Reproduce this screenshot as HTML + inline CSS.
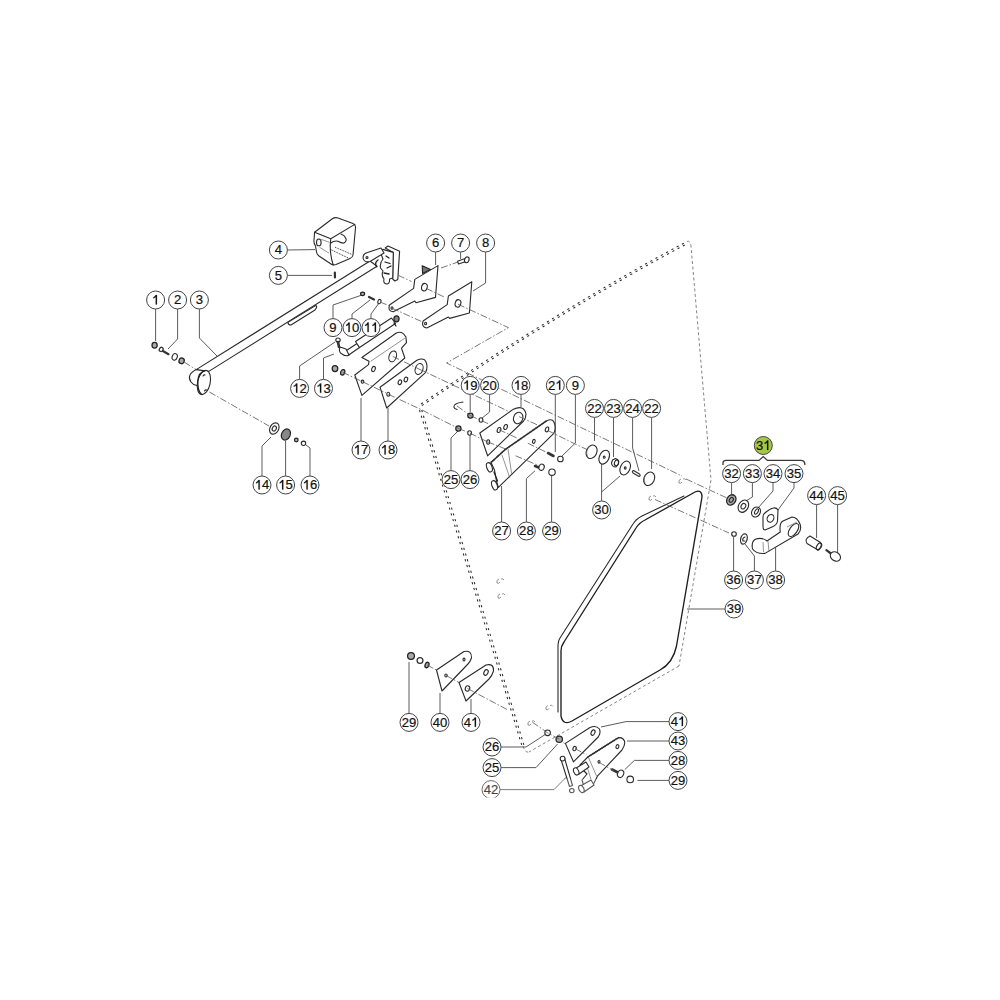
<!DOCTYPE html>
<html><head><meta charset="utf-8"><style>
html,body{margin:0;padding:0;background:#fff;}
body{width:1000px;height:1000px;overflow:hidden;position:relative;}
svg{position:absolute;left:0;top:0;}
text{font-family:"Liberation Sans",sans-serif;font-size:13.1px;fill:#111;stroke:#111;stroke-width:0.2px;text-anchor:start;}
.one{fill:#111;stroke:#111;stroke-width:0.2;}
.ld{fill:none;stroke:#4a4a4a;stroke-width:0.9;}
.pt{fill:#fff;stroke:#2a2a2a;stroke-width:1.1;stroke-linejoin:round;}
.pn{fill:none;stroke:#2a2a2a;stroke-width:1.1;stroke-linejoin:round;stroke-linecap:round;}
.dc{fill:none;stroke:#555;stroke-width:0.8;stroke-dasharray:7 2 1.5 2;}
.dd{fill:none;stroke:#777;stroke-width:0.9;stroke-dasharray:3 2.5;}
.ci{fill:#fff;stroke:#444;stroke-width:1;}
.nt{fill:#aaa;stroke:#222;stroke-width:1.25;}
.nt2{fill:#fff;stroke:#333;stroke-width:1.3;}
.ng{fill:#888;stroke:#222;stroke-width:1.2;}
.gl{fill:#fff;stroke:#1e1e1e;stroke-width:1.35;stroke-linejoin:round;}
.pd{fill:none;stroke:#333;stroke-width:1;stroke-dasharray:1 0.8;}
.tri{fill:#777;stroke:#222;stroke-width:1.1;stroke-linejoin:round;}
.bk{fill:none;stroke:#222;stroke-width:1.3;stroke-linecap:round;}
.tx{fill:none;stroke:#2a2a2a;stroke-width:1.7;stroke-dasharray:1.2 0.6;}
.pg{fill:none;stroke:#888;stroke-width:0.9;}
.ph{fill:none;stroke:#666;stroke-width:0.7;}
.bl{fill:none;stroke:#333;stroke-width:2.6;stroke-linecap:round;}
.bl2{fill:none;stroke:#333;stroke-width:2.2;stroke-linecap:round;}
.dd2{fill:none;stroke:#2a2a2a;stroke-width:1.05;stroke-dasharray:2.2 3.8;}
</style></head><body>
<svg width="1000" height="1000" viewBox="0 0 1000 1000">

<path class="dd2" d="M421,404 Q564.5,306.4 687,241.5"/>
<path class="dd2" d="M421.9,405.6 Q565.4,308 687.5,243.5"/>
<path class="dd2" d="M419.5,410 L522,746"/>
<path class="dd2" d="M421.7,410 L524.2,746"/>
<path class="dd" d="M523,746 Q525,753 529,752"/>
<path class="dd" d="M687,241.5 Q690,240 691,246 L711,480 L679,666"/>
<path class="dd" d="M679,666 L529,752"/>
<path class="gl" d="M561,716 L561,651 Q561,646 564,642 L636,528 Q639,523 645,520 L695,492 Q702,489 702,497 L676.5,646 Q673,663 660,670 L572,721 Q563,726 561,716 Z"/>
<path class="pn" d="M558,712 L558,645 Q558,641 560,638 L633,524 Q636,519 642,516 L684,496"/>
<path class="ph" d="M499.0,579.0 q-3,1 -2,4 q2,1 3,-1 M501.0,579.0 q2,-1 3,1"/>
<path class="ph" d="M500.0,594.0 q-3,1 -2,4 q2,1 3,-1 M502.0,594.0 q2,-1 3,1"/>
<path class="ph" d="M530.0,721.0 q-3,1 -2,4 q2,1 3,-1 M532.0,721.0 q2,-1 3,1"/>
<path class="ph" d="M548.0,705.5 q-3,1 -2,4 q2,1 3,-1 M550.0,705.5 q2,-1 3,1"/>
<path class="ph" d="M651.0,496.0 q-3,1 -2,4 q2,1 3,-1 M653.0,496.0 q2,-1 3,1"/>
<path class="ph" d="M681.0,479.0 q-3,1 -2,4 q2,1 3,-1 M683.0,479.0 q2,-1 3,1"/>
<polyline class="ld" points="155.6,309.0 155.6,341.0"/>
<polyline class="ld" points="177.6,309.0 177.6,339.0 168.0,349.0"/>
<polyline class="ld" points="199.4,309.0 199.4,338.0 217.0,356.0"/>
<polyline class="ld" points="287.5,250.0 315.0,249.6"/>
<polyline class="ld" points="287.5,275.4 332.0,275.4"/>
<polyline class="ld" points="435.6,252.0 435.6,265.0"/>
<polyline class="ld" points="460.6,252.0 460.6,259.0"/>
<polyline class="ld" points="485.6,252.0 485.6,283.0 473.0,291.0"/>
<polyline class="ld" points="333.0,318.6 333.0,305.0 362.0,295.0"/>
<polyline class="ld" points="352.0,318.6 352.0,314.0 370.0,300.0"/>
<polyline class="ld" points="371.0,318.6 371.0,314.0 379.0,303.0"/>
<polyline class="ld" points="299.6,379.4 299.6,366.0 335.0,342.0"/>
<polyline class="ld" points="323.5,379.4 323.5,358.0 334.0,354.0"/>
<polyline class="ld" points="262.0,476.0 262.0,446.0 271.0,437.0"/>
<polyline class="ld" points="285.6,476.0 285.6,441.0"/>
<polyline class="ld" points="310.0,476.0 310.0,448.0 306.0,445.0"/>
<polyline class="ld" points="361.0,441.0 361.0,398.0"/>
<polyline class="ld" points="388.0,441.0 388.0,408.0"/>
<polyline class="ld" points="470.2,394.4 470.2,412.0"/>
<polyline class="ld" points="489.6,394.4 489.6,412.0 481.0,419.0"/>
<polyline class="ld" points="521.0,394.4 521.0,407.0"/>
<polyline class="ld" points="555.3,394.4 555.3,452.0"/>
<polyline class="ld" points="575.4,394.4 575.4,443.0 561.0,457.0"/>
<polyline class="ld" points="594.5,417.4 594.5,441.0"/>
<polyline class="ld" points="613.5,417.4 613.5,457.0"/>
<polyline class="ld" points="632.6,417.4 632.6,448.0 639.0,471.0"/>
<polyline class="ld" points="651.6,417.4 651.6,469.0"/>
<polyline class="ld" points="601.6,501.0 601.6,463.0"/>
<polyline class="ld" points="601.6,492.0 620.0,476.0"/>
<polyline class="ld" points="451.0,470.6 451.0,438.0 458.0,431.0"/>
<polyline class="ld" points="470.0,470.6 470.0,435.0"/>
<polyline class="ld" points="501.6,522.0 501.6,486.0"/>
<polyline class="ld" points="526.4,522.0 526.4,478.6 535.0,470.8"/>
<polyline class="ld" points="551.6,522.0 551.6,476.0"/>
<polyline class="ld" points="731.6,482.6 731.6,494.0"/>
<polyline class="ld" points="752.4,482.6 752.4,497.0 746.0,501.0"/>
<polyline class="ld" points="773.0,482.6 773.0,491.0 758.0,508.0"/>
<polyline class="ld" points="794.0,482.6 794.0,488.0 778.0,510.0"/>
<polyline class="ld" points="733.6,571.0 733.6,537.0"/>
<polyline class="ld" points="754.4,571.0 754.4,556.0 745.0,544.0"/>
<polyline class="ld" points="775.6,571.0 775.6,547.5"/>
<polyline class="ld" points="725.0,609.0 687.0,609.0"/>
<polyline class="ld" points="816.6,504.6 816.6,538.0"/>
<polyline class="ld" points="837.6,504.6 837.6,556.0"/>
<polyline class="ld" points="409.0,713.4 409.0,662.0"/>
<polyline class="ld" points="440.0,713.4 440.0,693.0"/>
<polyline class="ld" points="471.0,713.4 471.0,699.0"/>
<polyline class="ld" points="501.0,747.0 526.0,747.0 546.0,734.0"/>
<polyline class="ld" points="501.0,767.6 536.0,767.6 557.6,744.0"/>
<polyline class="ld" points="500.0,789.6 554.0,789.6 566.0,777.4"/>
<polyline class="ld" points="669.0,721.6 626.0,721.6 601.0,727.0"/>
<polyline class="ld" points="669.0,741.0 627.0,741.0"/>
<polyline class="ld" points="669.0,760.4 634.4,760.4 624.8,769.6"/>
<polyline class="ld" points="669.0,780.4 637.4,780.4"/>
<path class="pt" d="M196.2,369.6 L370,261 L377,266.2 L208.8,371.4 Z"/>
<path class="pn" d="M196.2,369.6 Q186,375 191,382 Q193,385 197,385.5"/>
<ellipse class="pt" cx="203.9" cy="382.5" rx="6.3" ry="12.3" transform="rotate(12 203.9 382.5)" />
<path class="bk" d="M205,370.8 Q198.5,372 197.8,381 Q197.5,391 201.5,394.3"/>
<path class="pn" d="M203,376 q1,-1.5 2,-1 M204.5,391 q1,-1.5 2,-1"/>
<path class="pt" d="M288,322.4 L315.6,305.6 Q318,306 315,310 L291,325 Q288,325 288,322.4 Z"/>
<ellipse class="nt" cx="154.6" cy="345.2" rx="2.6" ry="2.8" transform="rotate(0 154.6 345.2)" />
<path class="bl2" d="M162,350.5 L168.5,354.2"/>
<ellipse class="nt2" cx="161.2" cy="349.4" rx="1.8" ry="2.2" transform="rotate(30 161.2 349.4)" />
<ellipse class="pt" cx="174.7" cy="356.9" rx="2.5" ry="3.4" transform="rotate(20 174.7 356.9)" />
<ellipse class="nt" cx="181.6" cy="360.8" rx="2.6" ry="2.9" transform="rotate(20 181.6 360.8)" />
<ellipse class="pt" cx="274.3" cy="428.5" rx="4.3" ry="6.0" transform="rotate(30 274.3 428.5)" /><ellipse class="pn" cx="274.3" cy="428.5" rx="1.9" ry="2.7" transform="rotate(30 274.3 428.5)" />
<ellipse class="ng" cx="285.9" cy="434.5" rx="4.3" ry="5.8" transform="rotate(25 285.9 434.5)" />
<ellipse class="nt" cx="296.3" cy="440.0" rx="1.8" ry="1.8" transform="rotate(0 296.3 440.0)" />
<ellipse class="pt" cx="303.5" cy="443.3" rx="2.2" ry="2.2" transform="rotate(0 303.5 443.3)" />
<path class="pt" d="M314.6,232.2 L332,219 Q335,217 338,218 L353,223.5 Q356,225 355.5,228 L353,255 Q352.5,257.5 350,258.5 L336,264.5 Q333,265.5 331,264 L319,256 Q317,254.5 316.5,252 L315.5,246 Q313.5,243 314,240 Z"/>
<path class="pn" d="M314.6,232.2 L330.8,238.8 L354.8,224.4 M330.8,238.8 Q329,252 333.2,264.9"/>
<path class="pn" d="M330.8,243 Q334,240.5 338,241.2 Q342,243.5 344,243 Q347,241 345.8,238.2 Q344.5,235 341,234"/>
<ellipse class="pn" cx="318.8" cy="242.4" rx="2.3" ry="3.4" transform="rotate(0 318.8 242.4)" />
<path class="ph" d="M321.2,239.4 L329.6,242.4 M319.4,247.2 L329,253.2"/>
<path class="pd" d="M335,247.2 L351.8,254.4 M330.8,249.6 L348.2,258"/>
<path class="bl2" d="M334.9,272.5 L334.9,277.5"/>
<path class="pt" d="M385.2,248 L388,246 L399.6,251.2 L397.8,279.4 L394.8,281 L392.7,279 L393.3,252.4 Z"/>
<path class="pt" d="M382.8,249.4 L393.3,252.4 L392.7,278 L389.5,279 Q390,284 386.5,284 Q383,283.5 384,279 Q381,275 383,271 L380.5,268 Q379.5,263 383,259 L381,254 Z"/>
<path class="pt" d="M363,258 Q363,253.5 367.5,252.5 L381,248 L384,253 L370,261.5 Q364,263 363,258 Z"/>
<ellipse class="pn" cx="367.0" cy="257.5" rx="1.0" ry="1.0" transform="rotate(0 367.0 257.5)" />
<path class="bk" d="M376.8,266.8 Q374,263 378,260 M386,256 L389,258 M385,262 L390,263.5 M387,268 L391,266 M384,273 L389,274"/>
<path class="tri" d="M422.2,265.8 L430.6,269.4 L422.6,273.4 Z"/>
<path class="pt" d="M438,265.6 L435.5,297.4 L416,302.8 L414.8,301 L393.2,311.8 Q387.5,311 389.5,305 L413.6,288.4 L414.8,279.4 Z"/>
<ellipse class="pn" cx="424.4" cy="287.2" rx="2.8" ry="3.8" transform="rotate(15 424.4 287.2)" />
<ellipse class="pn" cx="392.0" cy="308.0" rx="1.0" ry="1.3" transform="rotate(0 392.0 308.0)" />
<path class="pt" d="M471.8,281.8 L469.4,313 L449.6,318.4 L448.4,317 L426.8,328 Q421.1,327 423.1,321 L447.2,304.6 L448.4,296 Z"/>
<ellipse class="pn" cx="458.0" cy="303.4" rx="2.8" ry="3.8" transform="rotate(15 458.0 303.4)" />
<ellipse class="pn" cx="425.6" cy="323.5" rx="1.0" ry="1.3" transform="rotate(0 425.6 323.5)" />
<path class="pt" d="M457.5,261.3 L465,258.6 L466,261.4 L458.5,264 Z"/>
<ellipse class="pt" cx="466.8" cy="259.8" rx="2.2" ry="3.0" transform="rotate(20 466.8 259.8)" />
<ellipse class="nt" cx="362.6" cy="293.8" rx="2.0" ry="1.8" transform="rotate(0 362.6 293.8)" />
<path class="bl2" d="M369,297 L374,299.5"/>
<ellipse class="pt" cx="379.4" cy="301.6" rx="1.5" ry="2.2" transform="rotate(20 379.4 301.6)" />
<path class="pt" d="M345,351.5 L357,343.5 L359.5,347.5 L348,355.5 Z"/>
<path class="pt" d="M355.5,341.5 L391.5,318 L395.5,323.5 L359.5,347.5 Z"/>
<ellipse class="ng" cx="396.5" cy="318.8" rx="2.6" ry="3.0" transform="rotate(0 396.5 318.8)" />
<path class="bk" d="M394,323 L396,326"/>
<path class="pt" d="M342,354 Q338,352 340,347 L346,349 L349,355 Q346,357 342,354 Z"/>
<ellipse class="pt" cx="338.0" cy="340.0" rx="2.2" ry="2.0" transform="rotate(0 338.0 340.0)" />
<path class="bl" d="M338,342 L339,347"/>
<ellipse class="nt" cx="335.0" cy="368.5" rx="2.8" ry="3.0" transform="rotate(0 335.0 368.5)" />
<ellipse class="nt" cx="342.7" cy="372.3" rx="2.0" ry="2.8" transform="rotate(20 342.7 372.3)" />
<path class="pt" d="M396,333.3 Q402,330 405.9,337.1 L406.5,342.6 L401.5,348.1 L404.8,358 L361.9,395.4 L354.8,375 L368.5,364.6 L369,361.3 L361.9,357.5 Z"/>
<path class="ph" d="M370.7,361.3 L404.8,338.2"/>
<ellipse class="pn" cx="392.7" cy="356.4" rx="3.6" ry="5.6" transform="rotate(20 392.7 356.4)" />
<ellipse class="pn" cx="373.5" cy="369.0" rx="1.7" ry="2.7" transform="rotate(20 373.5 369.0)" />
<ellipse class="pn" cx="362.5" cy="381.7" rx="1.3" ry="1.6" transform="rotate(0 362.5 381.7)" />
<path class="pt" d="M416.9,360.2 Q426,356 427,366 Q427,370 425.7,372.3 L386.7,408 L380,387.2 Z"/>
<ellipse class="pn" cx="419.1" cy="369.0" rx="3.8" ry="5.6" transform="rotate(20 419.1 369.0)" />
<ellipse class="pn" cx="399.9" cy="382.2" rx="1.7" ry="2.4" transform="rotate(20 399.9 382.2)" />
<ellipse class="pn" cx="405.9" cy="379.5" rx="1.7" ry="2.4" transform="rotate(20 405.9 379.5)" />
<ellipse class="pn" cx="388.3" cy="394.3" rx="1.5" ry="2.0" transform="rotate(0 388.3 394.3)" />
<path class="pn" d="M457,409.5 Q452,408 455,404.5 Q458,402.5 463,402"/>
<ellipse class="nt" cx="470.4" cy="415.6" rx="2.6" ry="2.6" transform="rotate(0 470.4 415.6)" />
<ellipse class="pt" cx="481.0" cy="420.0" rx="1.9" ry="2.2" transform="rotate(0 481.0 420.0)" />
<ellipse class="nt" cx="458.4" cy="428.4" rx="2.6" ry="2.6" transform="rotate(0 458.4 428.4)" />
<ellipse class="pt" cx="469.6" cy="433.0" rx="1.9" ry="2.2" transform="rotate(0 469.6 433.0)" />
<path class="pt" d="M512.8,409.6 Q524,404 526,414 Q526,418 523.6,421 L487.6,455.8 L479.8,433 Z"/>
<ellipse class="pn" cx="518.2" cy="418.0" rx="4.6" ry="5.8" transform="rotate(20 518.2 418.0)" />
<ellipse class="pn" cx="499.0" cy="430.0" rx="1.7" ry="2.6" transform="rotate(20 499.0 430.0)" />
<ellipse class="pn" cx="505.6" cy="427.0" rx="1.7" ry="2.6" transform="rotate(20 505.6 427.0)" />
<ellipse class="pn" cx="488.2" cy="442.0" rx="1.5" ry="2.2" transform="rotate(0 488.2 442.0)" />
<path class="pt" d="M546.4,421 Q554,417 555,426 Q555.5,431 553.6,433.6 L498.4,487.4 L496.5,481 L494.5,470 L491,462.5 L505.6,449.2 Z"/>
<path class="tx" d="M491,462.5 L505.6,449.2 L546.4,421"/>
<path class="ph" d="M502,455 L509.8,477.8 M508,449 L511.6,473.6"/>
<path class="bk" d="M494,472 L497.5,481"/>
<ellipse class="pt" cx="489.4" cy="467.3" rx="2.6" ry="4.8" transform="rotate(-20 489.4 467.3)" />
<ellipse class="pt" cx="494.5" cy="485.3" rx="2.6" ry="4.8" transform="rotate(-20 494.5 485.3)" />
<ellipse class="pn" cx="547.0" cy="429.4" rx="1.6" ry="2.5" transform="rotate(20 547.0 429.4)" />
<ellipse class="pn" cx="533.8" cy="441.4" rx="1.3" ry="2.0" transform="rotate(20 533.8 441.4)" />
<path class="bl" d="M548,453 L553.5,456"/>
<ellipse class="pt" cx="560.4" cy="459.0" rx="2.8" ry="2.8" transform="rotate(0 560.4 459.0)" />
<path class="bl" d="M535,466 L540,468"/>
<ellipse class="pt" cx="541.6" cy="467.2" rx="2.6" ry="3.2" transform="rotate(20 541.6 467.2)" />
<ellipse class="pt" cx="552.0" cy="472.2" rx="3.2" ry="3.2" transform="rotate(0 552.0 472.2)" />
<ellipse class="pt" cx="591.6" cy="451.8" rx="5.2" ry="7.0" transform="rotate(25 591.6 451.8)" />
<path class="ph" d="M587.5,456 Q585,450 590,446"/>
<ellipse class="pt" cx="604.2" cy="457.2" rx="4.8" ry="7.3" transform="rotate(25 604.2 457.2)" />
<ellipse class="pn" cx="604.2" cy="457.2" rx="0.9" ry="1.1" transform="rotate(0 604.2 457.2)" />
<path class="pt" d="M612.5,460 L615.5,458.5 Q619,459.5 618.5,464 L616,467 Q612,467 611.5,463 Z"/>
<ellipse class="pn" cx="616.5" cy="462.8" rx="2.0" ry="3.0" transform="rotate(20 616.5 462.8)" />
<ellipse class="pt" cx="625.2" cy="468.0" rx="4.8" ry="7.3" transform="rotate(25 625.2 468.0)" />
<ellipse class="pn" cx="625.2" cy="468.0" rx="0.9" ry="1.1" transform="rotate(0 625.2 468.0)" />
<path class="pn" d="M633.5,470.5 L639.5,474 Q641,476 639,476.5 L633,473 Q631.5,471 633.5,470.5 Z"/>
<ellipse class="pt" cx="649.2" cy="478.8" rx="5.2" ry="7.0" transform="rotate(25 649.2 478.8)" />
<path class="ph" d="M645,483 Q642.5,477 647.5,473"/>
<ellipse class="nt" cx="731.3" cy="499.9" rx="4.3" ry="5.5" transform="rotate(35 731.3 499.9)" />
<ellipse class="pn" cx="731.3" cy="499.9" rx="1.8" ry="2.6" transform="rotate(35 731.3 499.9)" />
<ellipse class="pt" cx="743.4" cy="506.2" rx="4.8" ry="6.5" transform="rotate(30 743.4 506.2)" /><ellipse class="pn" cx="743.4" cy="506.2" rx="2.2" ry="2.9" transform="rotate(30 743.4 506.2)" />
<ellipse class="pt" cx="756.0" cy="512.0" rx="4.2" ry="5.3" transform="rotate(30 756.0 512.0)" />
<ellipse class="pn" cx="756.5" cy="511.5" rx="1.5" ry="3.0" transform="rotate(30 756.5 511.5)" />
<path class="pt" d="M766,512 Q775,505 778,510 L777.5,521 Q777,525 772,527 L765,530 Q763,530 763,526 L763,517 Q763,514 766,512 Z"/>
<ellipse class="pn" cx="770.5" cy="518.3" rx="3.2" ry="4.0" transform="rotate(30 770.5 518.3)" />
<ellipse class="pt" cx="734.0" cy="534.0" rx="2.3" ry="2.3" transform="rotate(0 734.0 534.0)" />
<ellipse class="nt2" cx="743.9" cy="539.0" rx="3.2" ry="5.2" transform="rotate(15 743.9 539.0)" />
<path class="pn" d="M745,537 Q742,538 743,541 L745,541"/>
<path class="pt" d="M756,539 Q751,541 752.5,549 Q756,554 765,553.4 L798,534 Q802,530 800,524 Q797,517 792,517 L783,521 Q779,523 780.3,532 L767,541 Q762,537 756,539 Z"/>
<path class="ph" d="M763,542 L763.5,552 M768,541 L769,552"/>
<ellipse class="pn" cx="793.5" cy="530.0" rx="3.8" ry="7.5" transform="rotate(35 793.5 530.0)" />
<path class="ph" d="M787,527 L797,522"/>
<path class="pt" d="M810,536 L820.5,542.5 Q823,546 818,550 L807,543.5 Q804,539 810,536 Z"/>
<ellipse class="pn" cx="819.0" cy="546.5" rx="2.2" ry="3.8" transform="rotate(30 819.0 546.5)" />
<path class="bl2" d="M826.4,550.2 L831,553.5"/>
<ellipse class="pt" cx="835.4" cy="556.5" rx="4.3" ry="5.5" transform="rotate(-55 835.4 556.5)" />
<ellipse class="nt" cx="411.0" cy="656.0" rx="3.4" ry="3.4" transform="rotate(0 411.0 656.0)" />
<ellipse class="nt2" cx="420.0" cy="660.5" rx="2.9" ry="2.9" transform="rotate(0 420.0 660.5)" />
<ellipse class="nt" cx="427.0" cy="665.0" rx="1.9" ry="2.8" transform="rotate(20 427.0 665.0)" />
<path class="pt" d="M436.5,670 L464,651.5 Q472,650 471.5,658 Q470,662 468,664 L442,691 Z"/>
<ellipse class="pn" cx="464.0" cy="659.5" rx="1.0" ry="1.4" transform="rotate(0 464.0 659.5)" />
<ellipse class="pn" cx="446.0" cy="675.5" rx="1.2" ry="1.5" transform="rotate(0 446.0 675.5)" />
<path class="pt" d="M459,682.5 L486,665 Q494,663 493.5,671 Q492,676 489,679 L466,701 Z"/>
<ellipse class="pn" cx="486.0" cy="672.5" rx="2.0" ry="3.0" transform="rotate(25 486.0 672.5)" />
<ellipse class="pn" cx="467.5" cy="688.5" rx="2.2" ry="2.7" transform="rotate(20 467.5 688.5)" />
<ellipse class="pt" cx="547.6" cy="732.8" rx="2.8" ry="2.8" transform="rotate(0 547.6 732.8)" />
<ellipse class="nt" cx="559.2" cy="739.2" rx="3.2" ry="3.2" transform="rotate(0 559.2 739.2)" />
<path class="pt" d="M565.4,743.4 L590,727.5 Q596,725 599.5,729 Q601,733 598.2,737 L573.4,761.8 Z"/>
<ellipse class="pn" cx="593.0" cy="732.6" rx="1.8" ry="2.8" transform="rotate(25 593.0 732.6)" />
<ellipse class="pn" cx="574.6" cy="748.6" rx="1.6" ry="2.2" transform="rotate(20 574.6 748.6)" />
<path class="pt" d="M587.8,757 L617,738.5 Q622,736 624.5,741 Q625.5,745 622,750 L597.4,776.2 L592.6,785.8 L585,790 L582,780 L587,774 L583,770 L580,765 Z"/>
<path class="tx" d="M587.8,757 L619,737.4"/>
<path class="ph" d="M588.6,757.8 L596.6,776.2 M587,766.6 L591,779.4"/>
<path class="pt" d="M576.2,768 L586,762 L589,767 L579,774 Z"/>
<ellipse class="pt" cx="576.2" cy="771.4" rx="2.4" ry="3.8" transform="rotate(-25 576.2 771.4)" />
<path class="pt" d="M581.4,785.5 L591,780 L594,785 L584,792 Z"/>
<ellipse class="pt" cx="581.4" cy="789.0" rx="2.4" ry="3.8" transform="rotate(-25 581.4 789.0)" />
<ellipse class="pn" cx="617.4" cy="746.6" rx="1.4" ry="2.0" transform="rotate(20 617.4 746.6)" />
<ellipse class="pn" cx="599.0" cy="761.8" rx="1.0" ry="1.3" transform="rotate(0 599.0 761.8)" />
<path class="pt" d="M561,759.5 L564.5,758 L572.5,785.5 L569.5,786.5 Z"/>
<ellipse class="pt" cx="562.6" cy="758.6" rx="2.4" ry="2.4" transform="rotate(0 562.6 758.6)" />
<ellipse class="pt" cx="571.8" cy="790.6" rx="2.3" ry="2.1" transform="rotate(0 571.8 790.6)" />
<path class="bl" d="M612,769.5 L618,772.5"/>
<ellipse class="pt" cx="620.6" cy="773.8" rx="3.0" ry="3.8" transform="rotate(25 620.6 773.8)" />
<ellipse class="pt" cx="630.2" cy="779.4" rx="3.3" ry="3.3" transform="rotate(0 630.2 779.4)" />
<polyline class="dc" points="184.0,362.0 196.0,369.5"/>
<polyline class="dc" points="209.4,392.0 269.0,426.0"/>
<polyline class="dc" points="398.0,275.2 411.5,281.5"/>
<polyline class="dc" points="441.0,268.0 458.0,262.0"/>
<polyline class="dc" points="426.2,288.4 445.0,297.4"/>
<polyline class="dc" points="458.0,304.2 508.4,327.6 446.6,363.0 682.0,476.0"/>
<polyline class="dc" points="686.0,479.0 727.0,498.0"/>
<polyline class="dc" points="380.0,302.0 390.0,306.0"/>
<polyline class="dc" points="392.0,308.2 422.6,322.0"/>
<polyline class="dc" points="342.7,372.3 362.5,381.7"/>
<polyline class="dc" points="362.5,381.7 386.0,393.0"/>
<polyline class="dc" points="388.3,394.3 420.0,409.0 458.4,428.4"/>
<polyline class="dc" points="458.4,428.4 469.6,433.0 487.7,441.9"/>
<polyline class="dc" points="487.7,441.9 505.7,449.0"/>
<polyline class="dc" points="515.6,455.8 539.0,465.7"/>
<polyline class="dc" points="392.7,356.4 419.0,369.0"/>
<polyline class="dc" points="419.0,369.0 509.3,411.7"/>
<polyline class="dc" points="519.2,416.7 537.2,424.8"/>
<polyline class="dc" points="548.0,430.6 575.9,444.4 588.0,450.0"/>
<polyline class="dc" points="457.0,406.0 470.4,415.6"/>
<polyline class="dc" points="470.4,415.6 480.5,420.2 489.5,424.3"/>
<polyline class="dc" points="499.0,429.7 516.5,437.8"/>
<polyline class="dc" points="527.8,443.2 549.0,453.5"/>
<polyline class="dc" points="655.0,499.5 729.0,533.0"/>
<polyline class="dc" points="427.0,665.0 436.5,670.0"/>
<polyline class="dc" points="446.0,675.5 459.0,682.5"/>
<polyline class="dc" points="467.5,688.5 508.0,710.0"/>
<polyline class="dc" points="532.4,722.2 547.6,732.8 559.2,739.2 564.8,743.8"/>
<polyline class="dc" points="575.0,748.6 586.4,754.6"/>
<polyline class="dc" points="599.0,762.4 614.0,770.8"/>
<path d="M723,465 L723,462.5 Q723.5,460.4 726,460.4 L759,460.4 L763.2,456.6 L767.4,460.4 L801,460.4 Q804,460.4 804.5,462.5 L805,465" style="fill:none;stroke:#3a3a3a;stroke-width:1.3"/>
<circle class="ci" cx="155.6" cy="300.0" r="9" style="fill:#fff"/>
<path class="one" d="M155.71,295.00 L156.96,295.00 L156.96,304.40 L155.71,304.40 L155.71,297.10 Q154.86,297.90 153.36,298.40 L153.36,297.30 Q155.06,296.60 155.71,295.00 Z"/>
<circle class="ci" cx="177.6" cy="300.0" r="9" style="fill:#fff"/>
<text x="173.96" y="304.40">2</text>
<circle class="ci" cx="199.4" cy="300.0" r="9" style="fill:#fff"/>
<text x="195.76" y="304.40">3</text>
<circle class="ci" cx="278.4" cy="250.0" r="9" style="fill:#fff"/>
<text x="274.76" y="254.40">4</text>
<circle class="ci" cx="278.4" cy="275.4" r="9" style="fill:#fff"/>
<text x="274.76" y="279.80">5</text>
<circle class="ci" cx="435.6" cy="243.0" r="9" style="fill:#fff"/>
<text x="431.96" y="247.40">6</text>
<circle class="ci" cx="460.6" cy="243.0" r="9" style="fill:#fff"/>
<text x="456.96" y="247.40">7</text>
<circle class="ci" cx="485.6" cy="243.0" r="9" style="fill:#fff"/>
<text x="481.96" y="247.40">8</text>
<circle class="ci" cx="333.0" cy="327.6" r="9" style="fill:#fff"/>
<text x="329.36" y="332.00">9</text>
<circle class="ci" cx="352.0" cy="327.6" r="9" style="fill:#fff"/>
<path class="one" d="M348.47,322.60 L349.72,322.60 L349.72,332.00 L348.47,332.00 L348.47,324.70 Q347.62,325.50 346.12,326.00 L346.12,324.90 Q347.82,324.20 348.47,322.60 Z"/>
<text x="352.00" y="332.00">0</text>
<circle class="ci" cx="371.0" cy="327.6" r="9" style="fill:#fff"/>
<path class="one" d="M367.47,322.60 L368.72,322.60 L368.72,332.00 L367.47,332.00 L367.47,324.70 Q366.62,325.50 365.12,326.00 L365.12,324.90 Q366.82,324.20 367.47,322.60 Z"/>
<path class="one" d="M374.75,322.60 L376.00,322.60 L376.00,332.00 L374.75,332.00 L374.75,324.70 Q373.90,325.50 372.40,326.00 L372.40,324.90 Q374.10,324.20 374.75,322.60 Z"/>
<circle class="ci" cx="299.6" cy="388.4" r="9" style="fill:#fff"/>
<path class="one" d="M296.07,383.40 L297.32,383.40 L297.32,392.80 L296.07,392.80 L296.07,385.50 Q295.22,386.30 293.72,386.80 L293.72,385.70 Q295.42,385.00 296.07,383.40 Z"/>
<text x="299.60" y="392.80">2</text>
<circle class="ci" cx="323.5" cy="388.4" r="9" style="fill:#fff"/>
<path class="one" d="M319.97,383.40 L321.22,383.40 L321.22,392.80 L319.97,392.80 L319.97,385.50 Q319.12,386.30 317.62,386.80 L317.62,385.70 Q319.32,385.00 319.97,383.40 Z"/>
<text x="323.50" y="392.80">3</text>
<circle class="ci" cx="262.0" cy="485.0" r="9" style="fill:#fff"/>
<path class="one" d="M258.47,480.00 L259.72,480.00 L259.72,489.40 L258.47,489.40 L258.47,482.10 Q257.62,482.90 256.12,483.40 L256.12,482.30 Q257.82,481.60 258.47,480.00 Z"/>
<text x="262.00" y="489.40">4</text>
<circle class="ci" cx="285.6" cy="485.0" r="9" style="fill:#fff"/>
<path class="one" d="M282.07,480.00 L283.32,480.00 L283.32,489.40 L282.07,489.40 L282.07,482.10 Q281.22,482.90 279.72,483.40 L279.72,482.30 Q281.42,481.60 282.07,480.00 Z"/>
<text x="285.60" y="489.40">5</text>
<circle class="ci" cx="310.0" cy="485.0" r="9" style="fill:#fff"/>
<path class="one" d="M306.47,480.00 L307.72,480.00 L307.72,489.40 L306.47,489.40 L306.47,482.10 Q305.62,482.90 304.12,483.40 L304.12,482.30 Q305.82,481.60 306.47,480.00 Z"/>
<text x="310.00" y="489.40">6</text>
<circle class="ci" cx="361.0" cy="450.0" r="9" style="fill:#fff"/>
<path class="one" d="M357.47,445.00 L358.72,445.00 L358.72,454.40 L357.47,454.40 L357.47,447.10 Q356.62,447.90 355.12,448.40 L355.12,447.30 Q356.82,446.60 357.47,445.00 Z"/>
<text x="361.00" y="454.40">7</text>
<circle class="ci" cx="388.0" cy="450.0" r="9" style="fill:#fff"/>
<path class="one" d="M384.47,445.00 L385.72,445.00 L385.72,454.40 L384.47,454.40 L384.47,447.10 Q383.62,447.90 382.12,448.40 L382.12,447.30 Q383.82,446.60 384.47,445.00 Z"/>
<text x="388.00" y="454.40">8</text>
<circle class="ci" cx="470.2" cy="385.4" r="9" style="fill:#fff"/>
<path class="one" d="M466.67,380.40 L467.92,380.40 L467.92,389.80 L466.67,389.80 L466.67,382.50 Q465.82,383.30 464.32,383.80 L464.32,382.70 Q466.02,382.00 466.67,380.40 Z"/>
<text x="470.20" y="389.80">9</text>
<circle class="ci" cx="489.6" cy="385.4" r="9" style="fill:#fff"/>
<text x="482.32" y="389.80">2</text>
<text x="489.60" y="389.80">0</text>
<circle class="ci" cx="521.0" cy="385.4" r="9" style="fill:#fff"/>
<path class="one" d="M517.47,380.40 L518.72,380.40 L518.72,389.80 L517.47,389.80 L517.47,382.50 Q516.62,383.30 515.12,383.80 L515.12,382.70 Q516.82,382.00 517.47,380.40 Z"/>
<text x="521.00" y="389.80">8</text>
<circle class="ci" cx="555.3" cy="385.4" r="9" style="fill:#fff"/>
<text x="548.02" y="389.80">2</text>
<path class="one" d="M559.05,380.40 L560.30,380.40 L560.30,389.80 L559.05,389.80 L559.05,382.50 Q558.20,383.30 556.70,383.80 L556.70,382.70 Q558.40,382.00 559.05,380.40 Z"/>
<circle class="ci" cx="575.4" cy="385.4" r="9" style="fill:#fff"/>
<text x="571.76" y="389.80">9</text>
<circle class="ci" cx="594.5" cy="408.4" r="9" style="fill:#fff"/>
<text x="587.22" y="412.80">2</text>
<text x="594.50" y="412.80">2</text>
<circle class="ci" cx="613.5" cy="408.4" r="9" style="fill:#fff"/>
<text x="606.22" y="412.80">2</text>
<text x="613.50" y="412.80">3</text>
<circle class="ci" cx="632.6" cy="408.4" r="9" style="fill:#fff"/>
<text x="625.32" y="412.80">2</text>
<text x="632.60" y="412.80">4</text>
<circle class="ci" cx="651.6" cy="408.4" r="9" style="fill:#fff"/>
<text x="644.32" y="412.80">2</text>
<text x="651.60" y="412.80">2</text>
<circle class="ci" cx="451.0" cy="479.6" r="9" style="fill:#fff"/>
<text x="443.72" y="484.00">2</text>
<text x="451.00" y="484.00">5</text>
<circle class="ci" cx="470.0" cy="479.6" r="9" style="fill:#fff"/>
<text x="462.72" y="484.00">2</text>
<text x="470.00" y="484.00">6</text>
<circle class="ci" cx="501.6" cy="531.0" r="9" style="fill:#fff"/>
<text x="494.32" y="535.40">2</text>
<text x="501.60" y="535.40">7</text>
<circle class="ci" cx="526.4" cy="531.0" r="9" style="fill:#fff"/>
<text x="519.12" y="535.40">2</text>
<text x="526.40" y="535.40">8</text>
<circle class="ci" cx="551.6" cy="531.0" r="9" style="fill:#fff"/>
<text x="544.32" y="535.40">2</text>
<text x="551.60" y="535.40">9</text>
<circle class="ci" cx="601.6" cy="510.0" r="9" style="fill:#fff"/>
<text x="594.32" y="514.40">3</text>
<text x="601.60" y="514.40">0</text>
<circle class="ci" cx="731.6" cy="473.6" r="9" style="fill:#fff"/>
<text x="724.32" y="478.00">3</text>
<text x="731.60" y="478.00">2</text>
<circle class="ci" cx="752.4" cy="473.6" r="9" style="fill:#fff"/>
<text x="745.12" y="478.00">3</text>
<text x="752.40" y="478.00">3</text>
<circle class="ci" cx="773.0" cy="473.6" r="9" style="fill:#fff"/>
<text x="765.72" y="478.00">3</text>
<text x="773.00" y="478.00">4</text>
<circle class="ci" cx="794.0" cy="473.6" r="9" style="fill:#fff"/>
<text x="786.72" y="478.00">3</text>
<text x="794.00" y="478.00">5</text>
<circle class="ci" cx="733.6" cy="580.0" r="9" style="fill:#fff"/>
<text x="726.32" y="584.40">3</text>
<text x="733.60" y="584.40">6</text>
<circle class="ci" cx="754.4" cy="580.0" r="9" style="fill:#fff"/>
<text x="747.12" y="584.40">3</text>
<text x="754.40" y="584.40">7</text>
<circle class="ci" cx="775.6" cy="580.0" r="9" style="fill:#fff"/>
<text x="768.32" y="584.40">3</text>
<text x="775.60" y="584.40">8</text>
<circle class="ci" cx="734.0" cy="609.0" r="9" style="fill:#fff"/>
<text x="726.72" y="613.40">3</text>
<text x="734.00" y="613.40">9</text>
<circle class="ci" cx="816.6" cy="495.6" r="9" style="fill:#fff"/>
<text x="809.32" y="500.00">4</text>
<text x="816.60" y="500.00">4</text>
<circle class="ci" cx="837.6" cy="495.6" r="9" style="fill:#fff"/>
<text x="830.32" y="500.00">4</text>
<text x="837.60" y="500.00">5</text>
<circle class="ci" cx="409.0" cy="722.4" r="9" style="fill:#fff"/>
<text x="401.72" y="726.80">2</text>
<text x="409.00" y="726.80">9</text>
<circle class="ci" cx="440.0" cy="722.4" r="9" style="fill:#fff"/>
<text x="432.72" y="726.80">4</text>
<text x="440.00" y="726.80">0</text>
<circle class="ci" cx="471.0" cy="722.4" r="9" style="fill:#fff"/>
<text x="463.72" y="726.80">4</text>
<path class="one" d="M474.75,717.40 L476.00,717.40 L476.00,726.80 L474.75,726.80 L474.75,719.50 Q473.90,720.30 472.40,720.80 L472.40,719.70 Q474.10,719.00 474.75,717.40 Z"/>
<circle class="ci" cx="492.0" cy="747.0" r="9" style="fill:#fff"/>
<text x="484.72" y="751.40">2</text>
<text x="492.00" y="751.40">6</text>
<circle class="ci" cx="492.0" cy="767.6" r="9" style="fill:#fff"/>
<text x="484.72" y="772.00">2</text>
<text x="492.00" y="772.00">5</text>
<circle class="ci" cx="491.0" cy="789.6" r="9" style="fill:#fff"/>
<text x="483.72" y="794.00">4</text>
<text x="491.00" y="794.00">2</text>
<circle class="ci" cx="678.0" cy="721.6" r="9" style="fill:#fff"/>
<text x="670.72" y="726.00">4</text>
<path class="one" d="M681.75,716.60 L683.00,716.60 L683.00,726.00 L681.75,726.00 L681.75,718.70 Q680.90,719.50 679.40,720.00 L679.40,718.90 Q681.10,718.20 681.75,716.60 Z"/>
<circle class="ci" cx="678.0" cy="741.0" r="9" style="fill:#fff"/>
<text x="670.72" y="745.40">4</text>
<text x="678.00" y="745.40">3</text>
<circle class="ci" cx="678.0" cy="760.4" r="9" style="fill:#fff"/>
<text x="670.72" y="764.80">2</text>
<text x="678.00" y="764.80">8</text>
<circle class="ci" cx="678.0" cy="780.4" r="9" style="fill:#fff"/>
<text x="670.72" y="784.80">2</text>
<text x="678.00" y="784.80">9</text>
<circle class="ci" cx="763.3" cy="445.5" r="9" style="fill:#a6c646"/>
<text x="756.02" y="449.90">3</text>
<path class="one" d="M767.05,440.50 L768.30,440.50 L768.30,449.90 L767.05,449.90 L767.05,442.60 Q766.20,443.40 764.70,443.90 L764.70,442.80 Q766.40,442.10 767.05,440.50 Z"/>
<rect x="125" y="779" width="500" height="18" fill="#fff" fill-opacity="0.22"/>
<rect x="0" y="797.5" width="1000" height="203" fill="#fff"/>
</svg></body></html>
